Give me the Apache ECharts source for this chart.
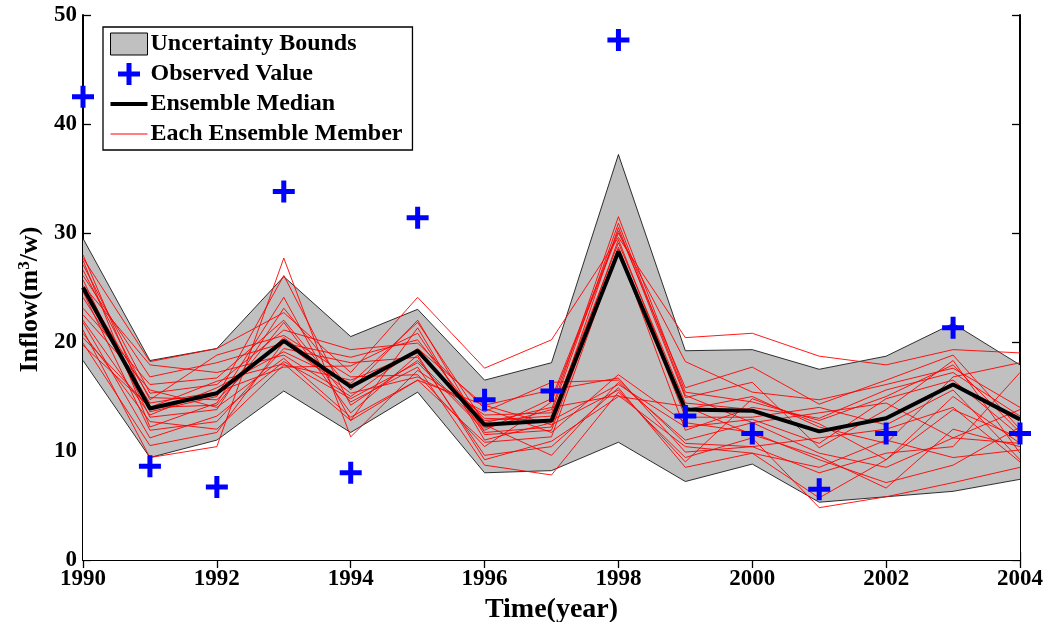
<!DOCTYPE html>
<html><head><meta charset="utf-8">
<script src="https://cdn.jsdelivr.net/npm/echarts@6/dist/echarts.min.js"></script>
<style>html,body{margin:0;padding:0;background:#fff}#c{width:1050px;height:622px}</style>
</head><body><div id="c"></div>
<script>
const years = [1990,1991,1992,1993,1994,1995,1996,1997,1998,1999,2000,2001,2002,2003,2004];
const observed = [42.5,8.6,6.7,33.8,8.0,31.4,14.7,15.5,47.7,13.2,11.6,6.5,11.6,21.3,11.6];
const ensembleMedian = [25.0,13.9,15.3,20.1,15.9,19.2,12.4,12.8,28.3,13.8,13.7,11.8,13.0,16.1,12.9];
const upperBound = [29.5,18.3,19.4,26.0,20.5,23.0,16.5,18.1,37.2,19.2,19.3,17.5,18.7,21.7,17.9];
const lowerBound = [18.3,9.4,11.0,15.5,11.7,15.4,8.0,8.2,10.8,7.2,8.8,5.3,5.8,6.3,7.4];
const member01 = [27.7,18.2,19.4,22.7,17.2,24.1,17.6,20.2,29.6,20.4,20.8,18.7,17.9,19.3,19.0];
const member02 = [21.1,9.4,10.4,27.7,11.3,17.4,13.3,13.5,30.9,15.1,12.6,9.8,8.5,11.2,13.8];
const member03 = [28.0,13.6,15.0,26.1,14.2,18.3,12.1,13.8,31.5,15.4,14.5,12.8,15.0,17.9,11.7];
const member04 = [27.5,12.2,14.4,24.1,12.8,21.3,11.0,12.6,30.5,14.9,16.3,10.3,13.8,18.3,9.8];
const member05 = [27.1,15.3,16.1,21.1,19.3,19.9,13.9,11.7,17.0,12.6,11.7,9.2,7.1,8.7,12.2];
const member06 = [26.6,14.7,18.8,20.6,16.8,17.0,10.4,14.5,30.0,18.2,15.4,14.7,16.1,17.6,14.0];
const member07 = [26.1,16.8,18.1,19.9,18.6,20.2,12.4,9.6,16.3,11.0,12.6,13.5,14.4,11.2,10.7];
const member08 = [25.7,13.1,13.8,23.1,15.6,22.0,11.7,12.2,29.4,13.8,15.0,12.2,10.7,16.8,18.1];
const member09 = [25.2,17.9,17.2,18.8,15.0,19.4,14.2,15.6,16.7,9.9,10.4,8.0,9.8,10.4,17.2];
const member10 = [25.0,14.9,14.7,20.4,15.9,19.1,12.8,13.2,29.1,14.4,13.8,11.7,13.1,16.2,12.8];
const member11 = [24.6,11.9,12.7,19.4,18.1,18.6,9.6,10.4,15.8,8.5,9.8,5.7,9.2,13.8,11.2];
const member12 = [24.1,14.4,15.4,17.7,17.8,20.8,11.5,11.9,28.7,13.1,13.1,14.0,12.4,15.6,9.2];
const member13 = [23.1,16.1,16.7,22.0,14.5,17.7,8.7,7.8,15.4,9.4,11.2,4.8,5.8,7.1,8.5];
const member14 = [22.5,15.6,14.0,18.5,13.1,16.5,10.8,11.3,28.5,11.9,14.0,13.0,15.6,17.2,13.2];
const member15 = [22.0,13.3,15.8,19.1,16.2,21.8,12.6,14.0,15.1,10.4,9.8,8.5,11.0,9.4,10.1];
const member16 = [21.8,11.2,13.2,18.2,14.8,18.1,11.9,14.8,30.2,15.8,17.7,14.3,16.5,18.8,12.0];
const member17 = [20.8,12.7,12.0,17.9,16.5,19.0,13.0,12.8,16.1,12.2,12.9,10.7,14.8,16.5,11.4];
const member18 = [20.4,14.0,14.2,21.8,13.5,18.8,9.2,10.9,15.0,14.1,11.5,9.5,6.6,12.0,10.4];
const member19 = [19.9,10.5,11.7,20.0,15.3,16.8,13.6,16.3,16.5,10.7,10.4,11.2,12.0,14.0,9.0];
const member20 = [19.7,14.0,16.4,18.0,12.8,16.5,14.2,12.4,15.6,9.0,14.8,12.5,9.2,15.0,10.7];
const members = [member01,member02,member03,member04,member05,member06,member07,member08,member09,member10,
                 member11,member12,member13,member14,member15,member16,member17,member18,member19,member20];
const xTicks = [1990,1992,1994,1996,1998,2000,2002,2004];
const yTicks = [0,10,20,30,40,50];

const FONT = '"Liberation Serif","Times New Roman",serif';
const pair = arr => years.map((y,i)=>[y,arr[i]]);
const plusPath = 'path://M8.5,0H13.5V8.5H22V13.5H13.5V22H8.5V13.5H0V8.5H8.5Z';
const thickLine = 'path://M0,0H37V4H0Z';
const thinLine = 'path://M0,0H37V1H0Z';

const series = [];
// grey band: upper bound filled down to the axis, then lower bound filled white over it
series.push({name:'Uncertainty Bounds',type:'line',data:pair(upperBound),symbol:'none',
  lineStyle:{color:'#000',width:0.8},areaStyle:{color:'#c0c0c0',opacity:1},
  itemStyle:{color:'#c0c0c0',borderColor:'#000',borderWidth:1},z:1,silent:true});
series.push({name:'lowerBoundLine',type:'line',data:pair(lowerBound),symbol:'none',
  lineStyle:{color:'#000',width:0.8},areaStyle:{color:'#ffffff',opacity:1},z:1,silent:true});
members.forEach(m=>series.push({name:'Each Ensemble Member',type:'line',data:pair(m),symbol:'none',
  lineStyle:{color:'#ff0000',width:0.9},itemStyle:{color:'#ff0000'},z:2,silent:true}));
series.push({name:'Ensemble Median',type:'line',data:pair(ensembleMedian),symbol:'none',
  lineStyle:{color:'#000',width:4},itemStyle:{color:'#000'},z:3,silent:true});
series.push({name:'Observed Value',type:'scatter',data:pair(observed),symbol:plusPath,symbolSize:22,
  itemStyle:{color:'#0000ff',opacity:1},z:4,silent:true});

const axisCommon = {
  axisLine:{show:true,lineStyle:{color:'#000',width:2}},
  axisTick:{show:true,inside:true,length:8,lineStyle:{color:'#000',width:1.3}},
  splitLine:{show:false}
};

const option = {
  animation:false,
  backgroundColor:'#fff',
  grid:{left:83,right:30,top:15,bottom:62,containLabel:false,outerBoundsMode:'none'},
  xAxis:[
    Object.assign({type:'value',min:1990,max:2004,interval:2,position:'bottom',
      name:'Time(year)',nameLocation:'middle',nameGap:35,
      nameTextStyle:{fontFamily:FONT,fontWeight:'bold',fontSize:28,color:'#000'},
      axisLabel:{fontFamily:FONT,fontWeight:'bold',fontSize:23,color:'#000',margin:8,
        formatter:v=>xTicks.includes(v)?String(v):''}},axisCommon),
    Object.assign({type:'value',min:1990,max:2004,interval:2,position:'top',
      axisLabel:{show:false}},axisCommon)
  ],
  yAxis:[
    Object.assign({type:'value',min:0,max:50,interval:10,position:'left',
      name:'Inflow(m{sup|3}/w)',nameLocation:'middle',nameGap:38,nameRotate:90,nameMoveOverlap:false,
      nameTextStyle:{fontFamily:FONT,fontWeight:'bold',fontSize:26,color:'#000',padding:[0,24,0,0],
        rich:{sup:{fontFamily:FONT,fontWeight:'bold',fontSize:17,color:'#000',verticalAlign:'top',padding:[0,0,12,0]}}},
      axisLabel:{fontFamily:FONT,fontWeight:'bold',fontSize:23,color:'#000',margin:6,
        formatter:v=>yTicks.includes(v)?String(v):''}},axisCommon),
    Object.assign({type:'value',min:0,max:50,interval:10,position:'right',
      axisLabel:{show:false}},axisCommon)
  ],
  legend:{
    left:103,top:27,orient:'vertical',
    backgroundColor:'#fff',borderColor:'#000',borderWidth:1.3,borderRadius:0,
    padding:[5,10,4,7],itemGap:6,itemWidth:37,itemHeight:22,
    textStyle:{fontFamily:FONT,fontWeight:'bold',fontSize:24,color:'#000',padding:[0,0,0,-2]},
    selectedMode:false,
    data:[
      {name:'Uncertainty Bounds',icon:'rect',itemStyle:{color:'#c0c0c0',borderColor:'#000',borderWidth:1}},
      {name:'Observed Value',icon:plusPath,itemStyle:{color:'#0000ff'}},
      {name:'Ensemble Median',icon:thickLine,itemStyle:{color:'#000'}},
      {name:'Each Ensemble Member',icon:thinLine,itemStyle:{color:'#ff0000'}}
    ]
  },
  series:series
};
const chart = echarts.init(document.getElementById('c'),null,{renderer:'canvas'});
chart.setOption(option);
</script></body></html>
